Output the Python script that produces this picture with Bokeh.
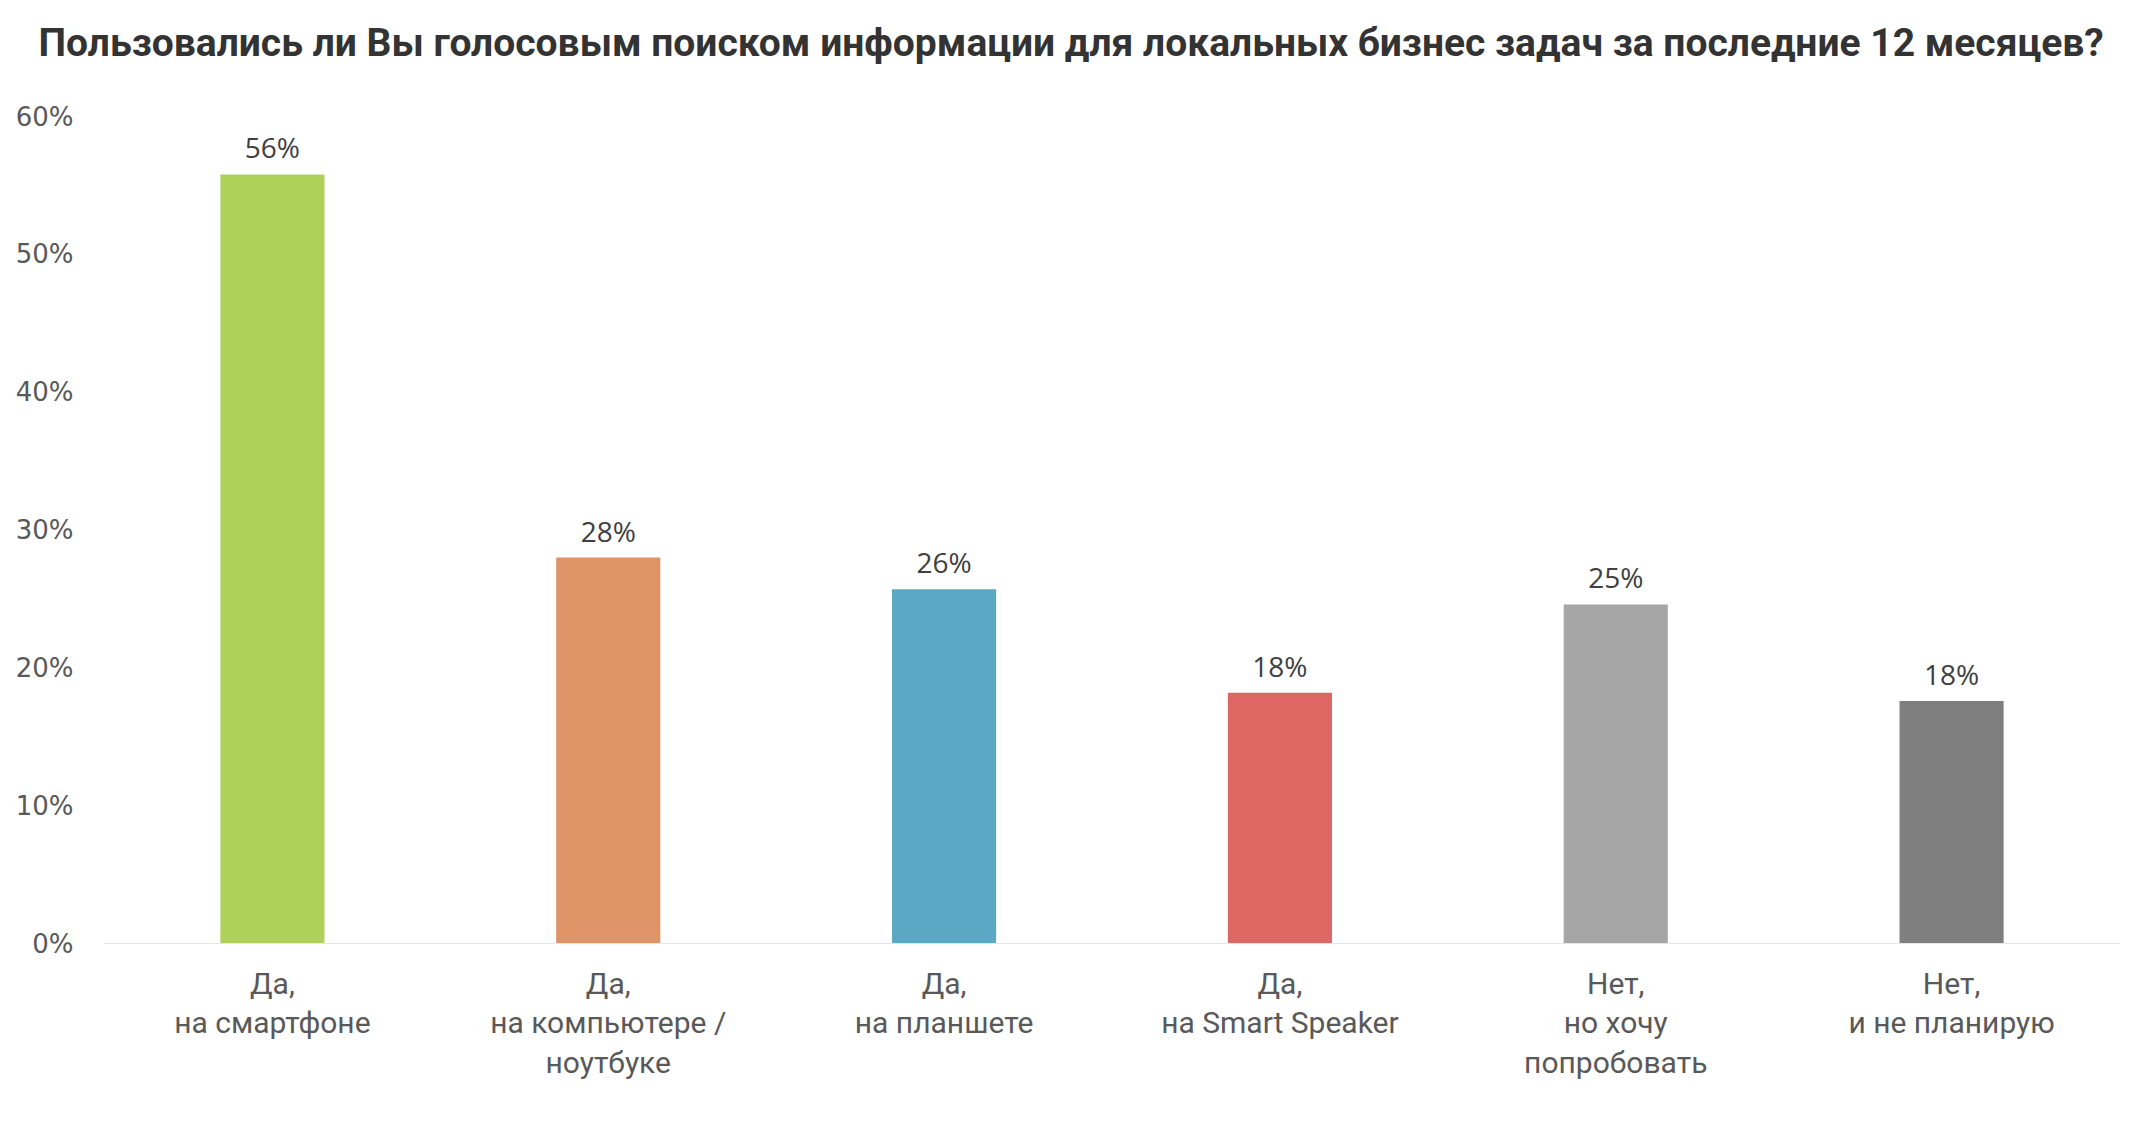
from bokeh.plotting import figure
from bokeh.models import ColumnDataSource, LabelSet, Title, FactorRange, FixedTicker, CustomJSTickFormatter
from bokeh.core.properties import value
from bokeh.embed import file_html
from bokeh.resources import INLINE

title_text = "Пользовались ли Вы голосовым поиском информации для локальных бизнес задач за последние 12 месяцев?"
categories = [
    "Да,\nна смартфоне",
    "Да,\nна компьютере /\nноутбуке",
    "Да,\nна планшете",
    "Да,\nна Smart Speaker",
    "Нет,\nно хочу\nпопробовать",
    "Нет,\nи не планирую",
]
values = [55.8, 28.0, 25.7, 18.2, 24.6, 17.6]
colors = ["#AED15A", "#DE9466", "#5BA8C4", "#DE6764", "#A6A6A6", "#7F7F7F"]
y_ticks = [0, 10, 20, 30, 40, 50, 60]

labels = [f"{round(v)}%" for v in values]
src = ColumnDataSource(dict(cat=categories, val=values, color=colors, lab=labels))

p = figure(width=2122, height=1118, output_backend="svg", toolbar_location=None,
           x_range=FactorRange(*categories, range_padding=0), y_range=(0, 60),
           min_border_left=104, min_border_right=3, min_border_top=0, min_border_bottom=175)

p.vbar(x="cat", top="val", width=0.31, color="color", source=src, line_color=None)

p.add_layout(LabelSet(x="cat", y="val", text="lab", source=src, text_align="center",
                      text_baseline="bottom", y_offset=8, text_font=value("Open Sans"),
                      text_font_size="28px", text_color="#404040"))

# spacer between title and plot area
p.add_layout(Title(text=" ", text_font_size="20px", standoff=10), "above")

p.title.text = title_text
p.title.align = "left"
p.title.offset = -66
p.title.text_font = "Roboto"
p.title.text_font_style = "bold"
p.title.text_font_size = "39px"
p.title.text_color = "#333333"
p.title.standoff = 34

p.xgrid.visible = False
p.ygrid.visible = False
p.outline_line_color = None

p.yaxis.ticker = FixedTicker(ticks=y_ticks)
p.yaxis.formatter = CustomJSTickFormatter(code="return tick.toFixed(0) + '%';")
p.yaxis.axis_line_color = None
p.yaxis.major_tick_line_color = None
p.yaxis.minor_tick_line_color = None
p.yaxis.major_label_text_font = "DejaVu Sans"
p.yaxis.major_label_text_font_size = "26px"
p.yaxis.major_label_text_color = "#595959"
p.yaxis.major_label_standoff = 25

p.xaxis.axis_line_color = "#E6E6E6"
p.xaxis.axis_line_width = 1
p.xaxis.major_tick_line_color = None
p.xaxis.minor_tick_line_color = None
p.xaxis.major_label_text_font = "Roboto"
p.xaxis.major_label_text_font_size = "30px"
p.xaxis.major_label_text_color = "#595959"
p.xaxis.major_label_text_line_height = 1.14
p.xaxis.major_label_standoff = 16

open("out.html", "w").write(file_html(p, INLINE))
